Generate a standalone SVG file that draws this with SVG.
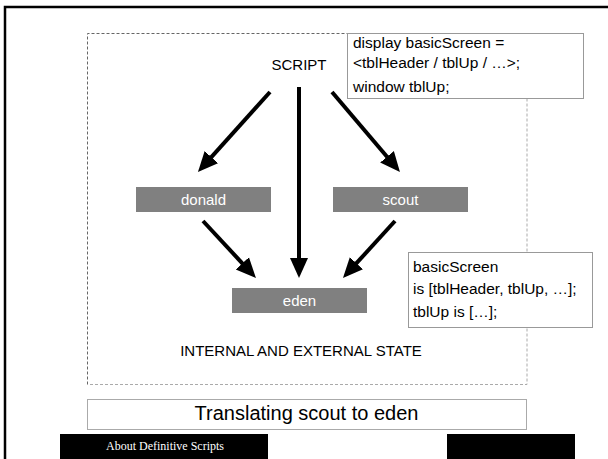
<svg xmlns="http://www.w3.org/2000/svg" width="608" height="459" viewBox="0 0 608 459">
<style>
.t{font-family:"Liberation Sans",Arial,sans-serif;font-size:15px;fill:#000}
.n{font-family:"Liberation Sans",Arial,sans-serif;font-size:15.5px;fill:#000}
.w{font-family:"Liberation Sans",Arial,sans-serif;font-size:15px;fill:#fff;text-anchor:middle}
.node{fill:#808080}
.box{fill:#fff;stroke:#999;stroke-width:1}
.arr{stroke:#000;stroke-width:4;fill:none;marker-end:url(#ah)}
</style>
<defs>
<marker id="ah" markerUnits="userSpaceOnUse" markerWidth="20" markerHeight="20" refX="2" refY="9" orient="auto" viewBox="0 0 20 18">
<path d="M0,0 L20,9 L0,18 z" fill="#000"/>
</marker>
</defs>
<rect width="608" height="459" fill="#fff"/>
<rect x="5" y="7" width="700" height="500" fill="none" stroke="#000" stroke-width="2.5"/>
<g id="state">
<path d="M87.5,384.5 V33.5 H527" fill="none" stroke="#666" stroke-width="1" stroke-dasharray="3,2"/>
<path d="M527,33.5 V384.5 H87.5" fill="none" stroke="#aaa" stroke-width="1" stroke-dasharray="3,2"/>
<text class="t" x="301" y="356" text-anchor="middle">INTERNAL AND EXTERNAL STATE</text>
</g>
<g id="script"><text class="t" x="299" y="70" text-anchor="middle">SCRIPT</text></g>
<g id="connectors">
<path class="arr" d="M270,92 L210,158.6"/>
<path class="arr" d="M332,92 L388.3,158.3"/>
<path class="arr" d="M299,87 L299,260"/>
<path class="arr" d="M203,221 L243.7,264.8"/>
<path class="arr" d="M395,221 L355.1,264.7"/>
</g>
<g id="donald"><rect class="node" x="136" y="187" width="135" height="25"/><text class="w" x="203.5" y="205">donald</text></g>
<g id="scout"><rect class="node" x="333" y="187" width="135" height="25"/><text class="w" x="400.5" y="205">scout</text></g>
<g id="eden"><rect class="node" x="232" y="288" width="135" height="25"/><text class="w" x="299.5" y="306">eden</text></g>
<g id="note1">
<rect class="box" x="347.5" y="33.5" width="236" height="65"/>
<text class="n" x="353" y="48">display basicScreen =</text>
<text class="n" x="353" y="68">&lt;tblHeader / tblUp / …&gt;;</text>
<text class="n" x="353" y="92">window tblUp;</text>
</g>
<g id="note2">
<rect class="box" x="408.5" y="252.5" width="184" height="75"/>
<text class="n" x="413" y="272">basicScreen</text>
<text class="n" x="413" y="294">is [tblHeader, tblUp, …];</text>
<text class="n" x="413" y="317">tblUp is […];</text>
</g>
<g id="title">
<rect x="87.5" y="399.5" width="439" height="30" fill="#fff" stroke="#aaa" stroke-width="1"/>
<text class="t" x="306.5" y="420" text-anchor="middle" style="font-size:20px">Translating scout to eden</text>
</g>
<g id="footer">
<rect x="60" y="434" width="208" height="25" fill="#000"/>
<text x="106" y="450" style="font-family:'Liberation Serif','Times New Roman',serif;font-size:12px" fill="#fff">About Definitive Scripts</text>
<rect x="447" y="434" width="128" height="25" fill="#000"/>
</g>
</svg>
